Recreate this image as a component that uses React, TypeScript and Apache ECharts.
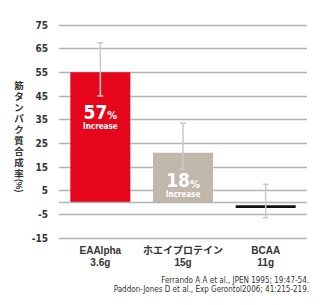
import React, { useEffect, useRef } from "react";
import * as echarts from "echarts";

const categories = ["EAAlpha\n3.6g", "ホエイプロテイン\n15g", "BCAA\n11g"];
const barValues = [55, 21, -1.2];
const bcaaLineValues = ["-", "-", -1.1];
const errLow = [45, 14, -6.4];
const errHigh = [67.5, 33.5, 7.7];
const barLabels = ["57", "18", ""];
const barColors = ["#e5061b", "#c1b7aa", "transparent"];
const yNameChars = ["筋", "タ", "ン", "パ", "ク", "質", "合", "成", "率"];
const footnotes = [
  "Ferrando A A et al., JPEN 1995; 19:47-54.",
  "Paddon-Jones D et al., Exp Gerontol2006; 41:215-219.",
];

const NARROW = "'Liberation Sans Narrow', 'DejaVu Sans Condensed', 'Noto Sans CJK JP', sans-serif";
const LATJP = "'Liberation Sans', 'Noto Sans CJK JP', sans-serif";

export default function App() {
  const ref = useRef<HTMLDivElement>(null);
  useEffect(() => {
    if (!ref.current) return;
    const chart = echarts.init(ref.current, null, { renderer: "svg" });
    const labelOffsets = [[0, -21], [0, 7]];
    const step = 11;
    const nameGraphics: any[] = yNameChars.map((ch, i) => ({
      type: "text",
      x: 19,
      y: 85 + i * step,
      style: {
        text: ch,
        font: "bold 9.5px 'Liberation Sans', 'Noto Sans CJK JP'",
        fill: "#333",
        align: "center",
        verticalAlign: "middle",
      },
    }));
    nameGraphics.push({
      type: "text",
      x: 19,
      y: 85 + yNameChars.length * step - 5,
      rotation: -Math.PI / 2,
      style: {
        text: "(%)",
        font: "bold 8.5px 'Liberation Sans', 'Noto Sans CJK JP'",
        fill: "#333",
        align: "left",
        verticalAlign: "middle",
      },
    });
    footnotes.forEach((t, i) => {
      nameGraphics.push({
        type: "text",
        x: 309,
        y: 280 + i * 9.6,
        style: {
          text: t,
          font: "8px " + NARROW,
          fill: "#333",
          align: "right",
          verticalAlign: "middle",
        },
      });
    });
    chart.setOption({
      animation: false,
      backgroundColor: "#ffffff",
      grid: { left: 59, right: 17, top: 25, bottom: 67 },
      xAxis: {
        type: "category",
        data: categories,
        axisLine: { show: false },
        axisTick: { show: false },
        splitLine: { show: false },
        axisLabel: {
          interval: 0,
          color: "#333",
          fontSize: 10,
          fontWeight: "bold",
          fontFamily: LATJP,
          lineHeight: 12,
          margin: 6,
        },
      },
      yAxis: {
        type: "value",
        min: -15,
        max: 75,
        interval: 10,
        axisLine: { show: false },
        axisTick: { show: false },
        axisLabel: {
          color: "#333",
          fontSize: 10,
          fontWeight: "bold",
          fontFamily: NARROW,
          margin: 11,
        },
        splitLine: { lineStyle: { color: "#b4b4b4", width: 1.3 } },
      },
      graphic: nameGraphics,
      series: [
        {
          type: "bar",
          stack: "s",
          barWidth: 60,
          data: barValues.map((v, i) => ({
            value: v,
            itemStyle: { color: barColors[i] },
            label:
              barLabels[i] !== ""
                ? {
                    show: true,
                    position: "inside",
                    offset: labelOffsets[i],
                    formatter: "{a|" + barLabels[i] + "}{b|%}\n{c|Increase}",
                    rich: {
                      a: { fontSize: 19, fontWeight: "bold", color: "#fff", fontFamily: NARROW, lineHeight: 20, verticalAlign: "bottom" },
                      b: { fontSize: 11, fontWeight: "bold", color: "#fff", fontFamily: NARROW, lineHeight: 20, verticalAlign: "bottom" },
                      c: { fontSize: 8, fontWeight: "bold", color: "#fff", fontFamily: NARROW, lineHeight: 10 },
                    },
                  }
                : { show: false },
          })),
          markLine: {
            silent: true,
            symbol: "none",
            label: { show: false },
            lineStyle: { color: "#b4b4b4", width: 1.3, type: "solid" },
            data: [{ yAxis: 0 }],
          },
          z: 2,
        },
        {
          type: "bar",
          stack: "s",
          barWidth: 60,
          data: bcaaLineValues,
          itemStyle: { color: "#111" },
          z: 2,
        },
        {
          type: "custom",
          data: errLow.map((l, i) => [i, l, errHigh[i]]),
          encode: { x: 0, y: [1, 2] },
          z: 5,
          renderItem: (params: any, api: any) => {
            const x = api.value(0);
            const hi = api.coord([x, api.value(2)]);
            const lo = api.coord([x, api.value(1)]);
            const half = 3;
            const style = { stroke: "#c9c9c9", lineWidth: 1.5 };
            return {
              type: "group",
              children: [
                { type: "line", shape: { x1: hi[0], y1: hi[1], x2: lo[0], y2: lo[1] }, style },
                { type: "line", shape: { x1: hi[0] - half, y1: hi[1], x2: hi[0] + half, y2: hi[1] }, style },
                { type: "line", shape: { x1: lo[0] - half, y1: lo[1], x2: lo[0] + half, y2: lo[1] }, style },
              ],
            };
          },
        },
      ],
    });
    return () => chart.dispose();
  }, []);
  return <div ref={ref} style={{ width: 324, height: 305, position: "fixed", left: 0, top: 0 }} />;
}
